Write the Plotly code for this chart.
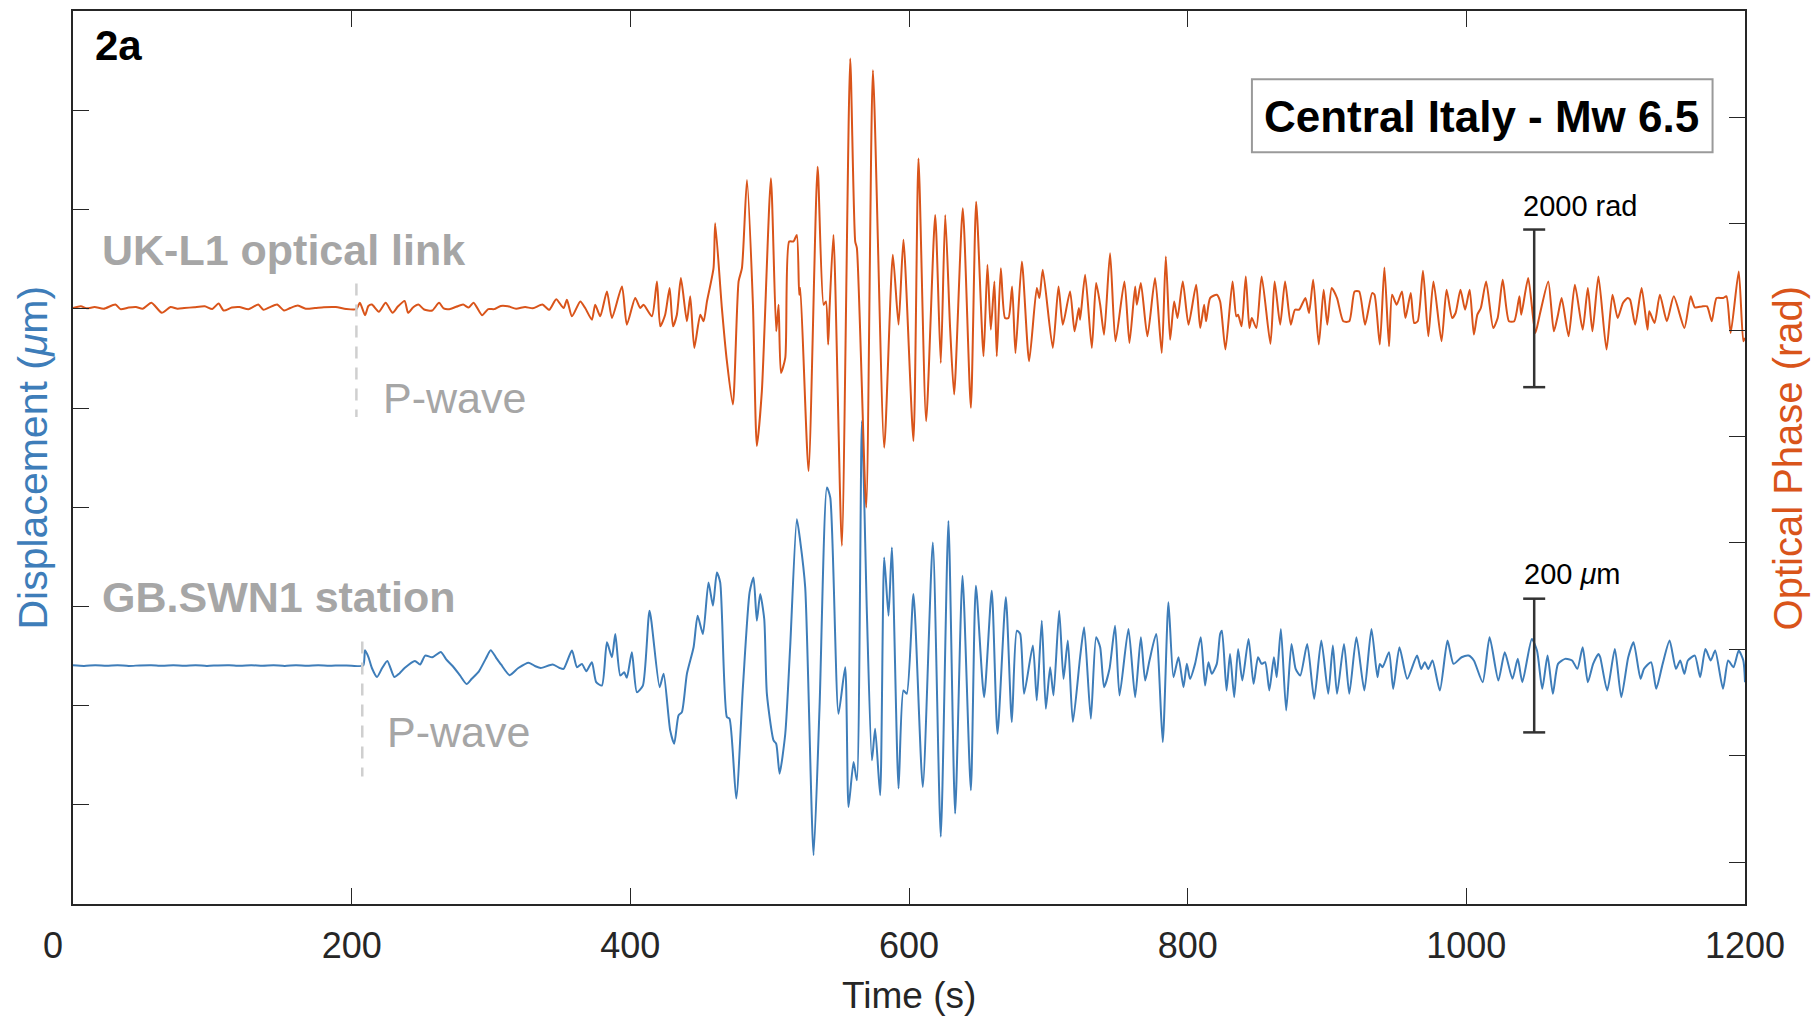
import plotly.graph_objects as go

# ---------------- data ----------------
# UK-L1 optical link: optical phase (rad) vs time (s), turning points of the trace
t_optical = [
    0, 5.6, 10, 15.5, 22, 30.4, 34.1, 40, 45.2, 50, 56.3, 63.7, 70, 75, 79.8, 87, 94.6, 100,
    104.5, 108.2, 114, 119.4, 126, 133, 136.7, 141, 146.5, 151.5, 156, 161.4, 167, 173.7, 180,
    188.6, 196, 203.4, 205.9, 209.6, 212, 214.5, 219.5, 224.4, 229.4, 233, 238, 240.5, 244,
    247.9, 252, 257.8, 262.7, 266, 270.1, 275, 280, 284, 287.5, 293.6, 298, 302.3, 307, 312.2,
    318, 324.5, 330, 336.9, 341.8, 346.8,
    352.1, 354.5, 358.1, 364.1, 367.6, 372.4, 374.8, 378.4, 383.2, 386.8, 394.0, 397.5, 403.5,
    407.1, 409.5, 415.5, 419.1, 421.5, 425.0, 428.2, 430.6, 433.4, 436.3, 440.6, 443.0, 445.9,
    450.2, 452.6, 455.0, 459.7, 460.9, 465.7, 469.3, 473.6, 477.7, 480.1, 483.7, 488.0, 490.8,
    494.4, 500.9, 504.7, 506.4, 508.1, 511.2, 514.0, 517.1, 519.5, 521.2, 522.0, 527.9, 534.4,
    538.7, 540.4, 542.0, 543.0, 545.8, 551.8, 557.8, 561.4, 562.6, 569.3, 574.1, 582.2, 588.4,
    592.5, 596.0, 603.2, 606.8, 612.3, 618.8, 622.8, 626.0, 629.5, 632.4, 638.6, 644.4, 648.2,
    653.5, 656.3, 658.7, 661.3, 663.0, 665.9, 668.9, 671.4, 674.0, 676.4, 681.0, 686.2, 691.7,
    693.6, 696.0, 703.2, 707.3, 710.4, 715.6, 718.8, 721.9, 722.8, 726.4, 731.2, 734.3, 737.2,
    740.0, 744.3, 748.2, 754.6, 758.2, 762.3, 763.5, 766.4, 771.1, 776.6, 781.4, 784.3, 787.4,
    790.3, 792.7, 796.5, 800.6, 806.1, 809.0, 811.8, 813.2, 816.1, 820.9, 823.3,
    827.1, 832.2, 834.9, 836.2, 838.7, 841.7, 844.3, 846.0, 849.3, 853.1, 859.4, 862.4, 866.4,
    869.9, 874.0, 877.0, 880.0, 884.5, 887.1, 890.1, 894.1, 897.6, 900.2, 903.4, 907.2, 911.7,
    916.0, 919.8, 923.1, 927.3, 932.4, 934.1, 937.9, 941.2, 944.5, 946.7, 950.0, 953.8, 956.3,
    960.1, 962.6, 965.1, 968.9, 972.7, 976.4, 982.2, 985.8, 989.8, 992.3, 995.8, 999.1, 1002.4,
    1005.4, 1007.9, 1010.4, 1014.2, 1019.3, 1022.5, 1026.1, 1030.6, 1034.4, 1038.1, 1039.4,
    1044.4, 1049.5, 1052.7, 1058.8, 1062.8, 1065.8, 1068.4, 1073.4, 1077.9, 1083.5, 1087.2,
    1090.5, 1094.8, 1100.6, 1104.9, 1108.6, 1112.4, 1115.7, 1117.5, 1121.2, 1125.8, 1130.0,
    1131.3, 1135.1, 1138.9, 1143.9, 1148.9, 1156.5, 1161.0, 1164.0, 1169.1, 1172.8, 1176.1,
    1179.6, 1184.2, 1186.7, 1189.7, 1195.5, 1198.8, 1200.0,
]
phase_rad = [
    3, 26, 0, 17, -5, 48, -10, 10, 17, -5, 71, -56, 17, -5, 3, 15, 26, -8,
    62, -28, 10, 17, -10, 48, -19, 12, 48, -28, 5, 35, -5, 3, 15,
    17, -8, -10, 71, -87, 30, 48, -42, 71, -56, 20, 94, -56, 10,
    48, -15, -28, 71, 0, -10, 20, 48, 10, 71, -87, -10, -10, 30, 26,
    -5, 17, 0, 48, -19, 116,
    4, 110, -101, 88, 4, -144, 46, -101, 215, -123, 278, -207, 131,
    4, 46, -101, 342, -228, -80, 257, -228, -80, 384, -165, 152, -502,
    -80, -165, 88, 510, 1080, 4, -671, -1220, 342, 510, 1629, 46, -1747,
    -1051, 1650, -291, 46, -819, -629, 848, 848, 932, 173, 257, -2064, 1798,
    46, 88, -460, 4, 932, -3013, 3169, 848, 764, -2528, 3021, -1768, 679,
    -207, 869, -1684, 1903, -1431, 1186, -692, 1186, -249, -1093, 1270, -1262, 1354,
    -608, 553, -270, 342, -608, 510, -123, -123, 278, -566, 595, -671, 257,
    131, 489, -502, 278, -207, 215, -291, 4, -144, 426, -502, 321, 46,
    -334, 700, -418, 342, -439, 278, 46, 321, -355, 384, -566, 658, -397,
    88, -123, 342, -207, 300, -249, 46, -165, 131, 173, 88,
    -523, 342, -101, -80, -228, 405, -249, -122, -249, 405, -451, 342, -207,
    342, -207, -17, -17, 131, -59, 363, -460, 237, -207, 258, 131, -164,
    -164, 215, 215, -207, 194, 173, -460, 519, -481, 173, 46, 215, -122,
    194, -186, -164, 477, -354, 342, -418, 237, -122, -59, 237, -17, 237,
    -333, -80, 4, 342, -249, -122, 363, -164, -164, 152, -80,
    384, -312, -80, 342, -291, -80, 131, -354, 300, -270, 258,
    -291, 405, -523, 173, -122, 68, 131, 110, -207, 258, -270,
    -38, -186, 173, -164, 152, -249, 152, 13, 25, 25, -164,
    131, 131, 152, -312, 469, -418, -375,
]

# GB.SWN1 station: ground displacement (um) vs time (s), turning points of the trace
t_station = [
    0, 8, 16, 24, 32, 40, 48, 56, 64, 72, 80, 88, 96, 104, 112, 120, 128, 136, 144, 152,
    160, 168, 176, 184, 192, 200, 208.3,
    209.6, 212.1, 214.5, 218.2, 221.9, 225.6, 230.6, 234.3, 238.0, 245.4, 249.1, 252.8, 257.8,
    264.0, 267.7, 272.6, 277.6, 282.5, 286.2, 291.2, 296.1, 299.8, 303.5, 307.2, 313.4, 319.6,
    327.0, 331.9, 335.7, 344.3, 349.3,
    352.1, 358.1, 361.7, 365.2, 368.4, 372.4, 375.5, 379.6, 383.2, 386.8, 389.2, 392.8, 395.6,
    397.5, 401.1, 404.7, 409.0, 413.8, 421.0, 423.9, 428.6, 431.5, 434.6, 437.0, 440.6, 445.4,
    448.3, 452.1, 456.1, 459.3, 462.1, 464.5, 469.3, 471.2, 476.0, 480.8, 485.6, 488.4, 490.8,
    493.2, 496.1, 498.0, 502.8, 504.7, 507.1, 511.2, 514.7, 519.5, 521.9, 525.5, 531.5, 535.8,
    541.1, 543.5, 549.4, 554.2, 556.6, 560.2, 562.6, 566.2, 569.8, 573.4, 575.7, 579.3, 582.2,
    585.3, 587.7, 592.5,
    596.0, 598.4, 603.2, 609.9, 617.1, 622.8, 628.3, 633.1, 638.4, 644.4, 648.0, 653.9, 659.4,
    663.5, 669.5, 673.8, 677.4, 679.8, 682.6, 688.9, 691.7, 695.3, 698.2, 701.3, 703.7, 707.8,
    710.9, 714.0, 717.6, 722.8, 725.7, 730.5, 734.3, 737.2, 740.0, 743.9, 747.9, 751.1, 757.5,
    762.3, 766.4, 769.5, 772.6, 777.4, 782.1, 786.2, 789.8, 793.4, 797.0, 799.4, 801.7, 805.3,
    809.4, 812.5, 814.9, 817.3, 820.9, 823.3,
    824.6, 827.9, 830.4, 833.4, 836.2, 839.2, 843.7, 847.3, 850.5, 853.1, 855.6, 858.6, 861.9,
    863.9, 866.9, 870.7, 874.5, 877.5, 880.8, 885.8, 890.8, 895.9, 900.9, 904.2, 907.2, 912.2,
    916.0, 921.1, 926.8, 931.9, 936.2, 937.9, 939.9, 944.5, 947.5, 952.0, 957.6, 964.6, 967.6,
    970.2, 972.7, 975.7, 981.0, 986.5, 990.8, 996.6, 1001.6, 1005.4, 1011.7, 1016.7, 1023.0,
    1027.6, 1033.1, 1036.9, 1040.2, 1047.0, 1050.7, 1054.5, 1058.3, 1062.1, 1065.8, 1070.9,
    1075.9, 1079.7, 1083.5, 1087.2, 1091.0, 1094.8, 1096.1, 1101.1, 1106.6, 1111.2, 1116.2,
    1120.0, 1125.0, 1127.5, 1132.6, 1136.3, 1140.9, 1145.9, 1150.4, 1153.5, 1156.5, 1159.0,
    1164.0, 1167.8, 1171.6, 1175.4, 1178.6, 1184.2, 1187.9, 1191.7, 1195.5, 1198.8, 1200.0,
]
displacement_um = [
    0.3, -0.5, 0.6, -0.2, 0.4, -0.6, 0.2, 0.5, -0.4, 0.3, -0.3, 0.6, -0.5, 0.2, 0.4, -0.4,
    0.5, -0.2, 0.3, -0.6, 0.4, -0.3, 0.5, -0.4, 0.2, -0.3, 0.0,
    22.9, 12.3, -3.7, -17.1, -3.7, 6.9, -17.1, -11.8, -3.7, 6.9, 1.6, 14.9, 12.3,
    20.3, 9.6, -1.1, -14.4, -27.7, -19.8, -9.1, 9.6, 22.9, 12.3, 1.6, -14.4, -3.7,
    4.3, -1.1, -3.7, 1.6, -3.7,
    -5, 22.4, -2.5, 2.5, -8.5, 5, -24.9, -29.9, 34.8, 12.4, 47.2, -15, -10,
    -18.4, 19.9, -39.8, -29.9, 82.1, -32.3, -12.4, -97, -116.9, -74.6, -69.7, -12.4, 27.4,
    74.6, 47.2, 124.4, 89.5, 139.3, 124.4, -77.1, -79.6, -199, -32.3, 109.4, 131.8, 67.1,
    107, 69.6, -42.3, -112, -117, -161.7, -102, 27.4, 218.9, 186.6, 116.9, -283.6, -62.2,
    266.2, 251.2, -72.2, -2.5, -211.5, -144.3, -171.7, 365.7, 77.1, -141.8, -94.5, -194, 161.7,
    74.6, 176.6, -184,
    -37.3, -42.3, 106.9, -181.6, 184.1, -256.2, 216.4, -221.4, 134.3, -186.6, 119.4, -47.3, 111.9,
    -102, 102, -84.6, 52.2, 47.2, -42.3, 29.9, -52.3, 67.1, -64.7, -2.5, -44.8, 82.1,
    -19.9, 37.3, -84.6, 12.4, 57.2, -79.6, 42.3, 27.4, -32.3, -5, 59.7, -44.8, 54.7,
    -47.3, 42.3, -22.4, 7.5, 47.2, -114.4, 94.5, -17.4, 12.4, -32.3, 2.5, -19.9, 2.5,
    42.3, -29.9, 5, -12.4, 2.5, 47.2,
    52.2, -37.3, 17.4, -47.3, 24.9, -22.4, 39.8, -27.4, 12.4, 2.5, 5, -37.3, 12.4,
    -17.4, 54.7, -67.2, 32.3, -5, -15, 32.3, -49.8, 37.3, -42.3, 29.9, -42.3, 32.3,
    -42.3, 42.3, -37.3, 54.7, -17.4, 2.5, -2.5, 19.9, -34.8, 27.4, -19.9, 14.9, -5,
    5, -5, 7.5, -37.3, 37.3, 2.5, 12.4, 14.9, 7.5, -24.9, 42.3, -22.4,
    19.9, -19.9, 10, -24.9, 39.8, 22.4, -34.8, 14.9, -42.3, 2.5, 10,
    7.5, -5, 27.4, -24.9, 2.5, 17.4, 12.4, -37.3, 24.9, -47.3, 12.4,
    34.8, -19.9, -5, 5, -34.8, 2.5, 37.3, -5, 7.5, -12.4, 7.5,
    14.9, -17.4, 24.9, 7.5, 22.4, -34.8, 7.5, -2.5, 22.4, 7.5, -24.9,
]

# P-wave arrival times (s) marked on each record
p_wave_optical = 203.4
p_wave_station = 207.6

# scale bars: position in time (s) and full length in each unit
scale_bar_time = 1048.7
scale_bar_rad = 2000
scale_bar_um = 200

# time axis ticks
time_ticks = [0, 200, 400, 600, 800, 1000, 1200]
time_tick_labels = ["0\u00a0\u00a0\u00a0\u00a0", "200", "400", "600", "800", "1000", "1200"]

# ---------------- styling ----------------
FONT = "Liberation Sans, Arial, Helvetica, sans-serif"
ORANGE = "#D9541A"
BLUE = "#3E7DB9"
GREY_TEXT = "#A6A6A6"
AXIS = "#262626"

fig = go.Figure()

fig.add_trace(go.Scatter(x=t_station, y=displacement_um, mode="lines",
                         line=dict(color=BLUE, width=2, shape="spline", smoothing=0.6),
                         yaxis="y", showlegend=False))
fig.add_trace(go.Scatter(x=t_optical, y=phase_rad, mode="lines",
                         line=dict(color=ORANGE, width=2, shape="spline", smoothing=0.6),
                         yaxis="y2", showlegend=False))

# P-wave markers (dashed)
fig.add_trace(go.Scatter(x=[p_wave_optical, p_wave_optical], y=[316, -1380], mode="lines",
                         line=dict(color="#CFCFCF", width=2.5, dash="12px,9px"),
                         yaxis="y2", showlegend=False))
fig.add_trace(go.Scatter(x=[p_wave_station, p_wave_station], y=[36, -166], mode="lines",
                         line=dict(color="#CFCFCF", width=2.5, dash="12px,9px"),
                         yaxis="y", showlegend=False))

# scale bars with end caps
cap = 7.9
half_rad = scale_bar_rad / 2
half_um = scale_bar_um / 2
bar_style = dict(color="#333333", width=2.5)
fig.add_trace(go.Scatter(
    x=[scale_bar_time, scale_bar_time, None, scale_bar_time - cap, scale_bar_time + cap, None,
       scale_bar_time - cap, scale_bar_time + cap],
    y=[-half_rad, half_rad, None, half_rad, half_rad, None, -half_rad, -half_rad],
    mode="lines", line=bar_style, yaxis="y2", showlegend=False))
fig.add_trace(go.Scatter(
    x=[scale_bar_time, scale_bar_time, None, scale_bar_time - cap, scale_bar_time + cap, None,
       scale_bar_time - cap, scale_bar_time + cap],
    y=[-half_um, half_um, None, half_um, half_um, None, -half_um, -half_um],
    mode="lines", line=bar_style, yaxis="y", showlegend=False))

annotations = [
    dict(text="<b>2a</b>", x=0.0121, y=0.961, xref="paper", yref="paper",
         xanchor="left", yanchor="middle", showarrow=False,
         font=dict(family=FONT, size=42, color="black")),
    dict(text="<b>UK-L1 optical link</b>", x=0.0162, y=0.732, xref="paper", yref="paper",
         xanchor="left", yanchor="middle", showarrow=False,
         font=dict(family=FONT, size=43, color=GREY_TEXT)),
    dict(text="<b>GB.SWN1 station</b>", x=0.0162, y=0.344, xref="paper", yref="paper",
         xanchor="left", yanchor="middle", showarrow=False,
         font=dict(family=FONT, size=43, color=GREY_TEXT)),
    dict(text="P-wave", x=0.1843, y=0.5668, xref="paper", yref="paper",
         xanchor="left", yanchor="middle", showarrow=False,
         font=dict(family=FONT, size=43, color=GREY_TEXT)),
    dict(text="P-wave", x=0.1865, y=0.1922, xref="paper", yref="paper",
         xanchor="left", yanchor="middle", showarrow=False,
         font=dict(family=FONT, size=43, color=GREY_TEXT)),
    dict(text="<b>Central Italy - Mw 6.5</b>", x=0.8425, y=0.8816, xref="paper", yref="paper",
         xanchor="center", yanchor="middle", showarrow=False,
         font=dict(family=FONT, size=44, color="black")),
    dict(text="2000 rad", x=1039, y=1304, xref="x", yref="y2",
         xanchor="left", yanchor="middle", showarrow=False,
         font=dict(family=FONT, size=29, color="black")),
    dict(text="200 <i>μ</i>m", x=1040, y=137, xref="x", yref="y",
         xanchor="left", yanchor="middle", showarrow=False,
         font=dict(family=FONT, size=29, color="black")),
    dict(text="Time (s)", x=0.5, y=-0.1028, xref="paper", yref="paper",
         xanchor="center", yanchor="middle", showarrow=False,
         font=dict(family=FONT, size=37, color=AXIS)),
    dict(text="Displacement (<i>μ</i>m)", x=-0.0245, y=0.5, xref="paper", yref="paper",
         xanchor="center", yanchor="middle", textangle=-90, showarrow=False,
         font=dict(family=FONT, size=41, color=BLUE)),
    dict(text="Optical Phase (rad)", x=1.0257, y=0.5, xref="paper", yref="paper",
         xanchor="center", yanchor="middle", textangle=-90, showarrow=False,
         font=dict(family=FONT, size=40, color=ORANGE)),
]

shapes = [
    dict(type="rect", xref="paper", yref="paper", x0=0.7051, x1=0.9806, y0=0.8417, y1=0.9237,
         line=dict(color="#9A9A9A", width=2), fillcolor="rgba(0,0,0,0)"),
]

axis_common = dict(showgrid=False, zeroline=False, showline=True, linecolor=AXIS, linewidth=1.5,
                   ticks="inside", ticklen=16, tickwidth=1.3, tickcolor=AXIS)

fig.update_layout(
    width=1811, height=1018,
    margin=dict(l=73, r=66, t=9, b=114),
    paper_bgcolor="white", plot_bgcolor="white",
    font=dict(family=FONT, color=AXIS),
    xaxis=dict(range=[0, 1200], tickmode="array", tickvals=time_ticks,
               ticktext=time_tick_labels, mirror="ticks", ticklabelstandoff=9,
               tickfont=dict(family=FONT, size=36, color=AXIS), **axis_common),
    yaxis=dict(range=[-356.7, 979.1], tick0=-356.7, dtick=148.36, showticklabels=False,
               **axis_common),
    yaxis2=dict(range=[-7558, 3773], tick0=2424, dtick=1350, showticklabels=False,
                overlaying="y", side="right", **axis_common),
    annotations=annotations,
    shapes=shapes,
)

fig.write_html("out.html")
